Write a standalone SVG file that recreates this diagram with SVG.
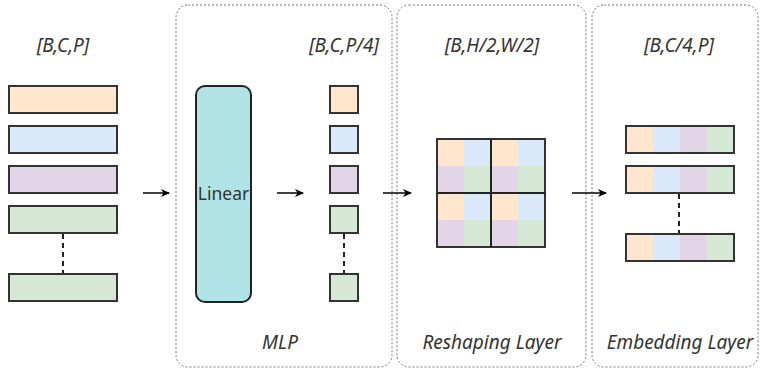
<svg xmlns="http://www.w3.org/2000/svg" width="761" height="370" viewBox="0 0 761 370">
<style>
.cont{fill:none;stroke:#777;stroke-width:1;stroke-dasharray:2 2}
.bx{stroke:#333;stroke-width:2}
.o{fill:#ffe6cc}.b{fill:#dae8fc}.p{fill:#e1d5e7}.g{fill:#d5e8d4}
.lbl{font-family:"Noto Sans","DejaVu Sans",sans-serif;font-style:italic;font-size:19px;fill:#333;text-anchor:middle}
.dash{stroke:#222;stroke-width:2;stroke-dasharray:5 4;fill:none}
.arr{stroke:#000;stroke-width:1.5;fill:none;marker-end:url(#ah)}
</style>
<defs>
<marker id="ah" markerWidth="10" markerHeight="10" refX="8" refY="5" orient="auto" markerUnits="userSpaceOnUse">
<path d="M0,1 L9,5 L0,9 L2.5,5 Z" fill="#000"/>
</marker>
</defs>
<rect width="761" height="370" fill="#fff"/>

<g id="input">
<text class="lbl" x="63" y="52">[B,C,P]</text>
<rect class="bx o" x="9" y="86" width="108" height="27"/>
<rect class="bx b" x="9" y="126" width="108" height="27"/>
<rect class="bx p" x="9" y="166" width="108" height="27"/>
<rect class="bx g" x="9" y="206" width="108" height="27"/>
<line class="dash" x1="63" y1="234" x2="63" y2="274"/>
<rect class="bx g" x="9" y="274" width="108" height="27"/>
</g>

<g id="mlp">
<rect class="cont" x="176" y="5" width="216" height="362" rx="12"/>
<rect x="196" y="86" width="55" height="216" rx="9" fill="#b0e3e6" stroke="#222" stroke-width="2"/>
<text x="223.5" y="200" font-family="'Noto Sans','DejaVu Sans',sans-serif" font-size="17.5" fill="#333" text-anchor="middle">Linear</text>
<text class="lbl" x="344" y="52">[B,C,P/4]</text>
<rect class="bx o" x="330" y="86" width="28" height="27"/>
<rect class="bx b" x="330" y="126" width="28" height="27"/>
<rect class="bx p" x="330" y="166" width="28" height="27"/>
<rect class="bx g" x="330" y="206" width="28" height="27"/>
<line class="dash" x1="344" y1="234" x2="344" y2="274"/>
<rect class="bx g" x="330" y="274" width="28" height="27"/>
<text class="lbl" x="280" y="349">MLP</text>
</g>

<g id="reshaping">
<rect class="cont" x="397" y="5" width="189" height="362" rx="12"/>
<text class="lbl" x="492" y="52">[B,H/2,W/2]</text>
<g>
<rect class="o" x="437" y="139" width="27" height="27"/><rect class="b" x="464" y="139" width="27" height="27"/>
<rect class="p" x="437" y="166" width="27" height="27"/><rect class="g" x="464" y="166" width="27" height="27"/>
<rect class="o" x="491" y="139" width="27" height="27"/><rect class="b" x="518" y="139" width="27" height="27"/>
<rect class="p" x="491" y="166" width="27" height="27"/><rect class="g" x="518" y="166" width="27" height="27"/>
<rect class="o" x="437" y="193" width="27" height="27"/><rect class="b" x="464" y="193" width="27" height="27"/>
<rect class="p" x="437" y="220" width="27" height="27"/><rect class="g" x="464" y="220" width="27" height="27"/>
<rect class="o" x="491" y="193" width="27" height="27"/><rect class="b" x="518" y="193" width="27" height="27"/>
<rect class="p" x="491" y="220" width="27" height="27"/><rect class="g" x="518" y="220" width="27" height="27"/>
<rect x="437" y="139" width="108" height="108" fill="none" stroke="#333" stroke-width="2"/>
<line x1="491" y1="139" x2="491" y2="247" stroke="#222" stroke-width="2"/>
<line x1="437" y1="193" x2="545" y2="193" stroke="#222" stroke-width="2"/>
</g>
<text class="lbl" x="492" y="349">Reshaping Layer</text>
</g>

<g id="embedding">
<rect class="cont" x="592" y="5" width="166" height="362" rx="12"/>
<text class="lbl" x="679" y="52">[B,C/4,P]</text>
<g>
<rect class="o" x="626" y="126" width="27" height="27"/><rect class="b" x="653" y="126" width="27" height="27"/><rect class="p" x="680" y="126" width="27" height="27"/><rect class="g" x="707" y="126" width="27" height="27"/>
<rect x="626" y="126" width="108" height="27" fill="none" stroke="#333" stroke-width="2"/>
</g>
<g>
<rect class="o" x="626" y="166" width="27" height="27"/><rect class="b" x="653" y="166" width="27" height="27"/><rect class="p" x="680" y="166" width="27" height="27"/><rect class="g" x="707" y="166" width="27" height="27"/>
<rect x="626" y="166" width="108" height="27" fill="none" stroke="#333" stroke-width="2"/>
</g>
<line class="dash" x1="679" y1="194" x2="679" y2="234"/>
<g>
<rect class="o" x="626" y="234" width="27" height="27"/><rect class="b" x="653" y="234" width="27" height="27"/><rect class="p" x="680" y="234" width="27" height="27"/><rect class="g" x="707" y="234" width="27" height="27"/>
<rect x="626" y="234" width="108" height="27" fill="none" stroke="#333" stroke-width="2"/>
</g>
<text class="lbl" x="680" y="349">Embedding Layer</text>
</g>

<g id="connectors">
<line class="arr" x1="143" y1="193" x2="169" y2="193"/>
<line class="arr" x1="277" y1="193" x2="303" y2="193"/>
<line class="arr" x1="383" y1="193" x2="411" y2="193"/>
<line class="arr" x1="572" y1="193" x2="606" y2="193"/>
</g>
</svg>
